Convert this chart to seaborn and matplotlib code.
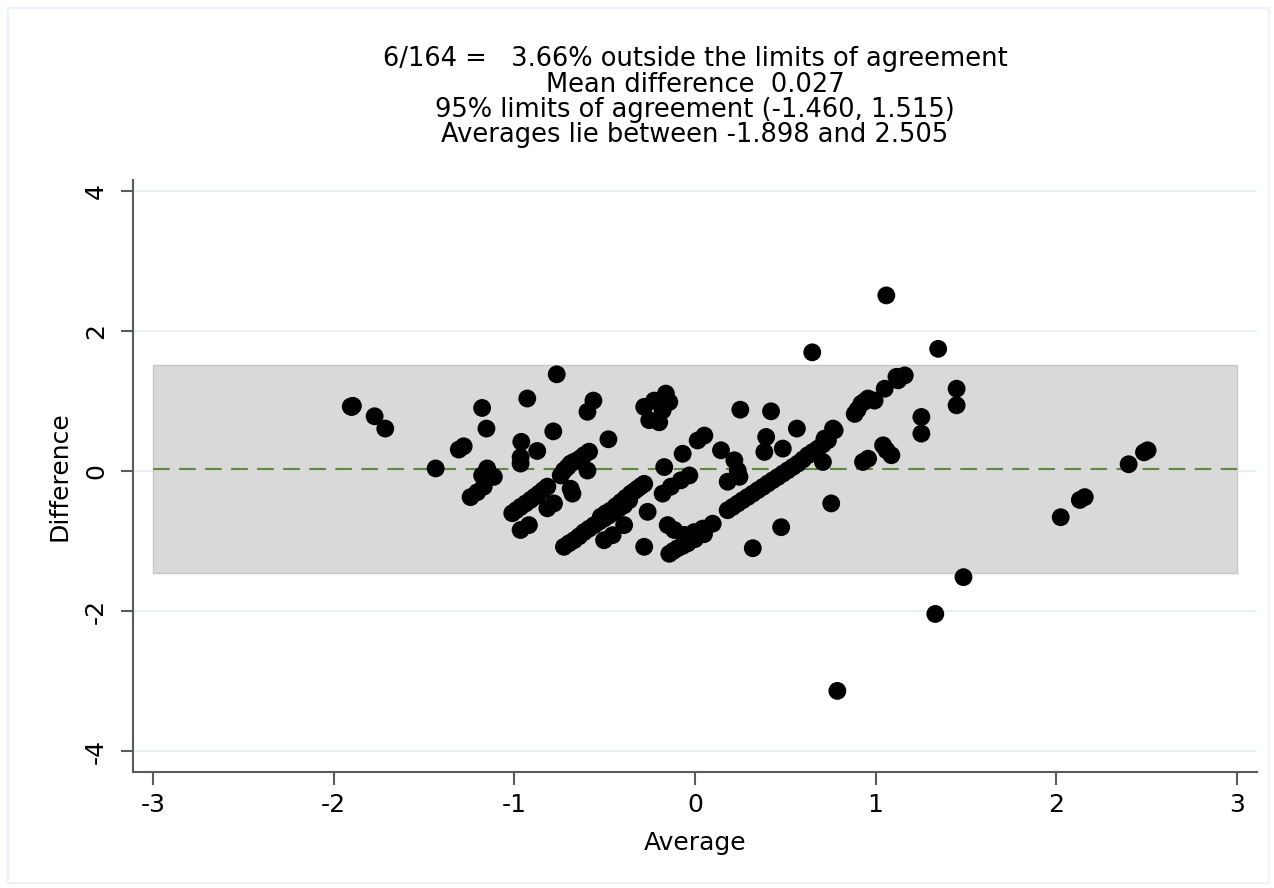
import matplotlib
matplotlib.use("Agg")
import matplotlib.pyplot as plt
import seaborn as sns
import pandas as pd

# Bland-Altman values
avg = [
    -1.899, -1.893, -1.905, -1.773, -1.714, -1.435, -1.307, -1.28, -1.178, -1.154,
    -1.15, -1.113, -1.178, -1.242, -1.205, -1.169, -0.928, -0.765, -0.961, -0.965,
    -0.965, -0.873, -0.784, -1.011, -0.988, -0.965, -0.937, -0.91, -0.887, -0.864,
    -0.84, -0.817, -0.965, -0.919, -0.817, -0.78, -0.743, -0.725, -0.705, -0.688,
    -0.67, -0.651, -0.632, -0.614, -0.586, -0.595, -0.688, -0.678, -0.595, -0.562,
    -0.479, -0.725, -0.697, -0.669, -0.641, -0.614, -0.586, -0.558, -0.53, -0.503,
    -0.475, -0.447, -0.42, -0.392, -0.364, -0.503, -0.456, -0.392, -0.281, -0.253,
    -0.198, -0.179, -0.161, -0.142, -0.226, -0.170, -0.179, -0.133, -0.078, -0.031,
    -0.068, 0.015, 0.052, -0.521, -0.493, -0.466, -0.438, -0.410, -0.383, -0.355,
    -0.336, -0.318, -0.30, -0.281, -0.262, -0.281, -0.151, -0.115, -0.059, -0.004,
    0.043, 0.098, -0.142, -0.12, -0.096, -0.07, -0.04, 0.0, 0.05, 0.144,
    0.218, 0.237, 0.181, 0.246, 0.251, 0.421, 0.394, 0.384, 0.486, 0.564,
    0.181, 0.209, 0.237, 0.264, 0.292, 0.32, 0.348, 0.376, 0.403, 0.431,
    0.459, 0.487, 0.514, 0.542, 0.570, 0.598, 0.625, 0.653, 0.681, 0.708,
    0.736, 0.773, 0.708, 0.754, 0.477, 0.32, 0.884, 0.90, 0.921, 0.94,
    0.958, 0.994, 1.05, 1.115, 0.93, 0.958, 1.041, 1.06, 1.087, 1.059,
    1.346, 1.161, 1.124, 0.764, 0.717, 1.253, 1.253, 1.448, 1.448, 2.024,
    2.13, 2.157, 2.40, 2.485, 2.505, 1.486, 1.33, 0.788, 0.649,
]
diff = [
    0.919, 0.935, 0.925, 0.786, 0.61, 0.04, 0.31, 0.357, 0.905, 0.61,
    0.04, -0.08, -0.06, -0.37, -0.30, -0.22, 1.04, 1.386, 0.42, 0.20,
    0.11, 0.29, 0.57, -0.60, -0.555, -0.51, -0.46, -0.41, -0.365, -0.32,
    -0.27, -0.22, -0.84, -0.77, -0.53, -0.46, -0.06, 0.01, 0.06, 0.11,
    0.135, 0.157, 0.19, 0.23, 0.28, 0.01, -0.25, -0.32, 0.85, 1.01,
    0.457, -1.08, -1.03, -0.986, -0.93, -0.87, -0.82, -0.77, -0.72, -0.676,
    -0.63, -0.58, -0.53, -0.486, -0.414, -0.986, -0.914, -0.77, 0.92, 0.73,
    0.70, 0.87, 1.11, 0.99, 1.01, 0.06, -0.32, -0.22, -0.13, -0.06,
    0.25, 0.44, 0.51, -0.65, -0.60, -0.56, -0.50, -0.44, -0.38, -0.32,
    -0.285, -0.25, -0.215, -0.18, -0.58, -1.08, -0.77, -0.84, -0.91, -0.87,
    -0.82, -0.75, -1.18, -1.14, -1.10, -1.07, -1.03, -0.97, -0.90, 0.30,
    0.157, 0.01, -0.15, -0.08, 0.88, 0.857, 0.49, 0.276, 0.324, 0.61,
    -0.557, -0.51, -0.461, -0.414, -0.367, -0.32, -0.271, -0.224, -0.176, -0.128,
    -0.081, -0.033, 0.014, 0.062, 0.11, 0.17, 0.229, 0.277, 0.324, 0.384,
    0.443, 0.586, 0.133, -0.46, -0.80, -1.10, 0.82, 0.88, 0.967, 1.0,
    1.04, 1.01, 1.18, 1.35, 0.133, 0.18, 0.371, 0.30, 0.229, 2.514,
    1.75, 1.37, 1.30, 0.61, 0.467, 0.776, 0.538, 1.18, 0.943, -0.657,
    -0.41, -0.37, 0.10, 0.27, 0.30, -1.514, -2.04, -3.14, 1.70,
]

mean_diff = 0.027
lower_loa = -1.460
upper_loa = 1.515
band_x = [-3, 3]
x_ticks = [-3, -2, -1, 0, 1, 2, 3]
y_ticks = [-4, -2, 0, 2, 4]

title_lines = [
    "6/164 =   3.66% outside the limits of agreement",
    "Mean difference  0.027",
    "95% limits of agreement (-1.460, 1.515)",
    "Averages lie between -1.898 and 2.505",
]

df = pd.DataFrame({"Average": avg, "Difference": diff})

sns.set_style("ticks")
plt.rcParams["font.family"] = ["DejaVu Sans"]
plt.rcParams["text.color"] = "black"
plt.rcParams["axes.labelcolor"] = "black"

fig = plt.figure(figsize=(12.74, 8.88), dpi=100)
ax = fig.add_axes([0.1044, 0.1306, 0.8822, 0.6664])

# light horizontal grid
for yv in y_ticks:
    ax.axhline(yv, color="#e6eff1", lw=1.2, zorder=0)

# limits of agreement band
ax.fill_between(band_x, lower_loa, upper_loa, color="#d9d9d9",
                edgecolor="#c8c8c8", lw=1, zorder=1)
ax.plot(band_x, [mean_diff, mean_diff], color="#5b8c3a", lw=1.5,
        dashes=(8, 4.5), zorder=2)

sns.scatterplot(data=df, x="Average", y="Difference", color="black",
                s=165, edgecolor="none", linewidth=0, ax=ax, zorder=3)

ax.set_xlim(-3.11, 3.11)
ax.set_ylim(-4.3, 4.16)
ax.set_xticks(x_ticks)
ax.set_yticks(y_ticks)
ax.set_xticklabels([str(v) for v in x_ticks])
ax.set_yticklabels([str(v) for v in y_ticks], rotation=90, va="center")
ax.tick_params(axis="both", labelsize=18, length=9, width=1.5,
               color="#5a5a5a", labelcolor="black")
ax.tick_params(axis="x", pad=6)
ax.tick_params(axis="y", pad=9)
ax.set_xlabel("Average", fontsize=18, labelpad=10)
ax.set_ylabel("Difference", fontsize=18, labelpad=9)
sns.despine(ax=ax)
for sp in ["left", "bottom"]:
    ax.spines[sp].set_color("#5a5a5a")
    ax.spines[sp].set_linewidth(1.5)

fig.text(0.5455, 0.948, "\n".join(title_lines), ha="center", va="top",
         fontsize=18.5, linespacing=0.97, color="black")

# faint outer frame like the graph region outline
fig.patches.append(plt.Rectangle((0.006, 0.006), 0.99, 0.985,
                                 transform=fig.transFigure, fill=False,
                                 edgecolor="#eef1f5", lw=1.5))

fig.savefig("out.png", dpi=100)
